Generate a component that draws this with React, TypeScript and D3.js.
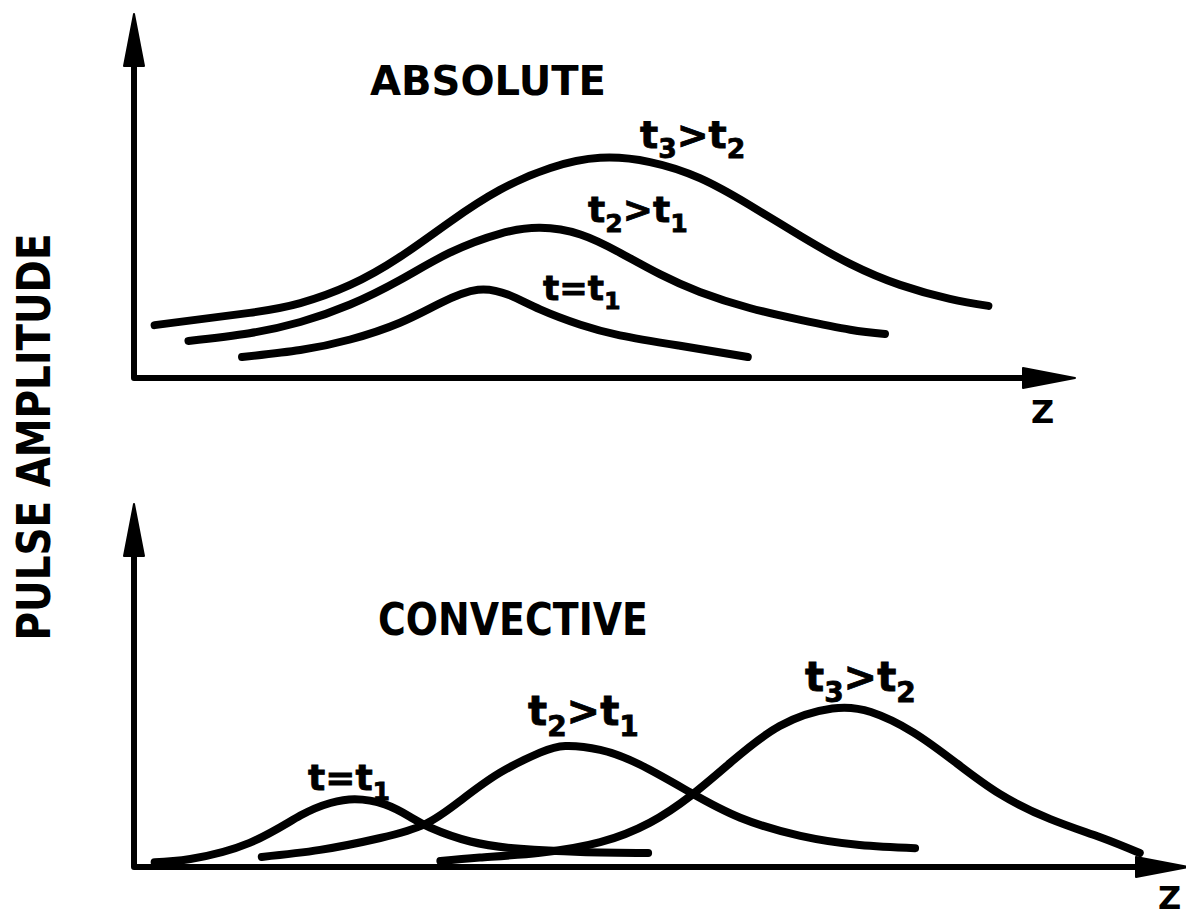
import React from "react";
import * as d3 from "d3";

// Pulse amplitude vs. z, sampled points [z, amplitude] for each time step.
const absoluteT1: [number, number][] = [
  [1.16, 0.6], [1.78, 0.8], [2.31, 1.1], [2.84, 1.58], [3.27, 2.14], [3.67, 2.52],
  [4.01, 2.36], [4.33, 1.96], [4.76, 1.52], [5.18, 1.22], [5.82, 0.92], [6.54, 0.6],
];
const absoluteT2: [number, number][] = [
  [0.59, 1.06], [1.24, 1.28], [1.78, 1.6], [2.31, 2.1], [2.84, 2.8], [3.37, 3.58],
  [3.9, 4.12], [4.33, 4.29], [4.76, 4.1], [5.18, 3.58], [5.61, 2.96], [6.03, 2.46],
  [6.56, 2.0], [7.1, 1.66], [7.63, 1.38], [8.0, 1.26],
];
const absoluteT3: [number, number][] = [
  [0.23, 1.51], [1.24, 1.86], [1.78, 2.14], [2.31, 2.66], [2.84, 3.46], [3.37, 4.46],
  [3.9, 5.37], [4.44, 6.0], [4.97, 6.29], [5.5, 6.17], [6.03, 5.71], [6.56, 4.94],
  [7.1, 4.06], [7.63, 3.26], [8.16, 2.66], [8.69, 2.26], [9.1, 2.06],
];
const convectiveT1: [number, number][] = [
  [0.23, 0.11], [0.61, 0.2], [1.24, 0.66], [1.78, 1.44], [2.1, 1.8], [2.36, 1.91],
  [2.68, 1.76], [2.95, 1.4], [3.16, 1.1], [3.59, 0.7], [4.12, 0.49], [4.76, 0.4],
  [5.48, 0.37],
];
const convectiveT2: [number, number][] = [
  [1.37, 0.26], [1.99, 0.46], [2.63, 0.8], [3.11, 1.2], [3.48, 1.86], [3.9, 2.66],
  [4.33, 3.24], [4.6, 3.43], [4.97, 3.32], [5.39, 2.9], [5.93, 2.1], [6.46, 1.38],
  [7.1, 0.86], [7.73, 0.6], [8.32, 0.51],
];
const convectiveT3: [number, number][] = [
  [3.27, 0.14], [3.69, 0.24], [4.33, 0.38], [4.97, 0.68], [5.5, 1.24], [5.93, 2.0],
  [6.35, 2.94], [6.88, 4.0], [7.44, 4.5], [7.85, 4.4], [8.3, 3.82], [8.75, 2.96],
  [9.22, 2.06], [9.76, 1.34], [10.29, 0.82], [10.71, 0.37],
];

const titles = ["ABSOLUTE", "CONVECTIVE"];
const yTitle = "PULSE AMPLITUDE";
const axisLabel = "Z";

const FONT = "'DejaVu Sans', sans-serif";
const INK = "#000";

const x = d3.scaleLinear().domain([0, 10]).range([133, 1073]);
const yTop = d3.scaleLinear().domain([0, 10]).range([378, 28]);
const yBottom = d3.scaleLinear().domain([0, 10]).range([866, 516]);

function curvePath(data: [number, number][], y: d3.ScaleLinear<number, number>) {
  return d3
    .line<[number, number]>()
    .x((d) => x(d[0]))
    .y((d) => y(d[1]))
    .curve(d3.curveNatural)(data) as string;
}

type LabelProps = { x: number; y: number; sub1?: string; rel: string; sub2: string; size: number };
function TimeLabel({ x: lx, y: ly, sub1, rel, sub2, size }: LabelProps) {
  const subSize = size * 0.7;
  const drop = size * 0.27;
  return (
    <text x={lx} y={ly} fontFamily={FONT} fontWeight="bold" fontSize={size} fill={INK} stroke={INK} strokeWidth={0.8}>
      t
      {sub1 ? (
        <>
          <tspan fontSize={subSize} dy={drop}>{sub1}</tspan>
          <tspan dy={-drop}>{rel}</tspan>
        </>
      ) : (
        <tspan>{rel}</tspan>
      )}
      <tspan>t</tspan>
      <tspan fontSize={subSize} dy={drop}>{sub2}</tspan>
    </text>
  );
}

function Axes({ baseline, top, right }: { baseline: number; top: number; right: number }) {
  const x0 = 134;
  return (
    <g>
      <path
        d={`M${x0},${top + 40} L${x0},${baseline} L${right - 40},${baseline}`}
        fill="none"
        stroke={INK}
        strokeWidth={6}
        strokeLinejoin="round"
      />
      <path d={`M${x0},${top} L${x0 + 10},${top + 52} L${x0 - 10},${top + 52} Z`} fill={INK} stroke={INK} strokeWidth={2} strokeLinejoin="round" />
      <path d={`M${right},${baseline} L${right - 52},${baseline - 10} L${right - 52},${baseline + 10} Z`} fill={INK} stroke={INK} strokeWidth={2} strokeLinejoin="round" />
    </g>
  );
}

export default function App() {
  const curveStyle = {
    fill: "none",
    stroke: INK,
    strokeWidth: 8,
    strokeLinecap: "round" as const,
    strokeLinejoin: "round" as const,
  };
  return (
    <svg width={1186} height={917} style={{ position: "absolute", left: 0, top: 0, background: "#fff" }}>
      <rect width={1186} height={917} fill="#fff" />

      {/* upper panel: absolute instability */}
      <Axes baseline={378} top={14} right={1075} />
      <path d={curvePath(absoluteT3, yTop)} {...curveStyle} />
      <path d={curvePath(absoluteT2, yTop)} {...curveStyle} />
      <path d={curvePath(absoluteT1, yTop)} {...curveStyle} />
      <text x={370} y={95} fontFamily={FONT} fontWeight="bold" fontSize={40} fill={INK} textLength={236} lengthAdjust="spacingAndGlyphs">
        {titles[0]}
      </text>
      <TimeLabel x={640} y={148} sub1="3" rel=">" sub2="2" size={38} />
      <TimeLabel x={588} y={222} sub1="2" rel=">" sub2="1" size={36} />
      <TimeLabel x={543} y={300} rel="=" sub2="1" size={34} />
      <text x={1031} y={423} fontFamily={FONT} fontWeight="bold" fontSize={32} fill={INK}>{axisLabel}</text>

      {/* lower panel: convective instability */}
      <Axes baseline={867} top={504} right={1188} />
      <path d={curvePath(convectiveT1, yBottom)} {...curveStyle} />
      <path d={curvePath(convectiveT2, yBottom)} {...curveStyle} />
      <path d={curvePath(convectiveT3, yBottom)} {...curveStyle} />
      <text x={378} y={635} fontFamily={FONT} fontWeight="bold" fontSize={44} fill={INK} textLength={270} lengthAdjust="spacingAndGlyphs">
        {titles[1]}
      </text>
      <TimeLabel x={308} y={790} rel="=" sub2="1" size={36} />
      <TimeLabel x={528} y={725} sub1="2" rel=">" sub2="1" size={40} />
      <TimeLabel x={805} y={691} sub1="3" rel=">" sub2="2" size={40} />
      <text x={1158} y={909} fontFamily={FONT} fontWeight="bold" fontSize={32} fill={INK}>{axisLabel}</text>

      {/* shared y axis title */}
      <text
        transform="translate(50,437) rotate(-90)"
        textAnchor="middle"
        fontFamily={FONT}
        fontWeight="bold"
        fontSize={46}
        fill={INK}
        textLength={407}
        lengthAdjust="spacingAndGlyphs"
      >
        {yTitle}
      </text>
    </svg>
  );
}
